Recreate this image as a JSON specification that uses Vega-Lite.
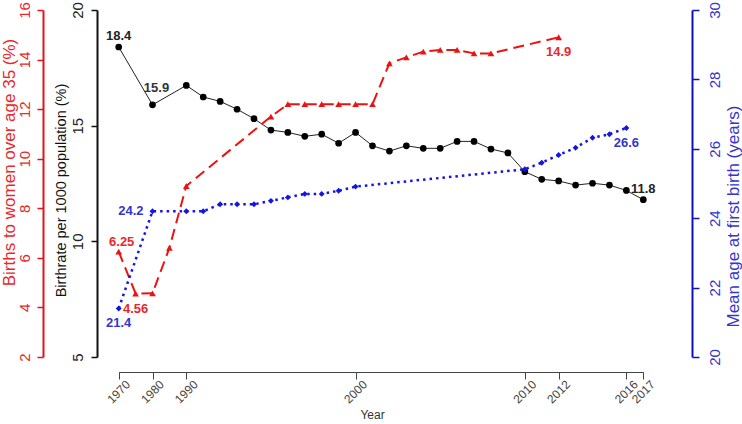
{
  "$schema": "https://vega.github.io/schema/vega-lite/v6.json",
  "width": 595,
  "height": 347,
  "autosize": {"type": "none"},
  "padding": {"left": 97, "top": 10, "right": 50, "bottom": 67},
  "background": "white",
  "config": {
    "font": "Liberation Sans",
    "view": {"stroke": null},
    "axis": {"grid": false, "labelFlush": false, "labelOverlap": false}
  },
  "datasets": {
    "birthrate": [
      {"year": 1970, "value": 18.4}, {"year": 1980, "value": 15.9},
      {"year": 1990, "value": 16.74}, {"year": 1991, "value": 16.24},
      {"year": 1992, "value": 16.05}, {"year": 1993, "value": 15.71},
      {"year": 1994, "value": 15.3}, {"year": 1995, "value": 14.81},
      {"year": 1996, "value": 14.71}, {"year": 1997, "value": 14.54},
      {"year": 1998, "value": 14.63}, {"year": 1999, "value": 14.24},
      {"year": 2000, "value": 14.71}, {"year": 2001, "value": 14.13},
      {"year": 2002, "value": 13.9}, {"year": 2003, "value": 14.13},
      {"year": 2004, "value": 14.02}, {"year": 2005, "value": 14.02},
      {"year": 2006, "value": 14.32}, {"year": 2007, "value": 14.32},
      {"year": 2008, "value": 13.99}, {"year": 2009, "value": 13.82},
      {"year": 2010, "value": 13.01}, {"year": 2011, "value": 12.68},
      {"year": 2012, "value": 12.61}, {"year": 2013, "value": 12.43},
      {"year": 2014, "value": 12.51}, {"year": 2015, "value": 12.43},
      {"year": 2016, "value": 12.2}, {"year": 2017, "value": 11.8}
    ],
    "over35": [
      {"year": 1970, "value": 6.25}, {"year": 1975, "value": 4.56},
      {"year": 1980, "value": 4.57}, {"year": 1985, "value": 6.4},
      {"year": 1990, "value": 8.9}, {"year": 1995, "value": 11.7},
      {"year": 1996, "value": 12.2}, {"year": 1997, "value": 12.2},
      {"year": 1998, "value": 12.2}, {"year": 1999, "value": 12.2},
      {"year": 2000, "value": 12.2}, {"year": 2001, "value": 12.2},
      {"year": 2002, "value": 13.85}, {"year": 2003, "value": 14.09},
      {"year": 2004, "value": 14.32}, {"year": 2005, "value": 14.39},
      {"year": 2006, "value": 14.39}, {"year": 2007, "value": 14.25},
      {"year": 2008, "value": 14.25}, {"year": 2012, "value": 14.9}
    ],
    "firstbirth": [
      {"year": 1970, "value": 21.4}, {"year": 1980, "value": 24.2},
      {"year": 1990, "value": 24.2}, {"year": 1991, "value": 24.2},
      {"year": 1992, "value": 24.4}, {"year": 1993, "value": 24.4},
      {"year": 1994, "value": 24.4}, {"year": 1995, "value": 24.5},
      {"year": 1996, "value": 24.6}, {"year": 1997, "value": 24.7},
      {"year": 1998, "value": 24.7}, {"year": 1999, "value": 24.79},
      {"year": 2000, "value": 24.91}, {"year": 2010, "value": 25.41},
      {"year": 2011, "value": 25.6}, {"year": 2012, "value": 25.82},
      {"year": 2013, "value": 26.03}, {"year": 2014, "value": 26.32},
      {"year": 2015, "value": 26.42}, {"year": 2016, "value": 26.6}
    ]
  },
  "encoding": {
    "x": {
      "field": "year",
      "type": "quantitative",
      "scale": {"type": "linear", "domain": [1970, 1990, 2017], "range": [21.7, 89.3, 546.3], "nice": false, "zero": false},
      "axis": {
        "values": [1970, 1980, 1990, 2000, 2010, 2012, 2016, 2017],
        "format": "d",
        "offset": 15,
        "domainColor": "#444",
        "domainWidth": 1,
        "tickColor": "#444",
        "tickWidth": 1,
        "tickSize": 7,
        "labelAngle": -45,
        "labelAlign": "right",
        "labelBaseline": "middle",
        "labelOffset": 9,
        "labelPadding": 3,
        "labelFontSize": 12,
        "labelColor": "#444",
        "title": "Year",
        "titleFontSize": 12,
        "titleFontWeight": "normal",
        "titleColor": "#333",
        "titleX": 275,
        "titleY": 42,
        "titleAlign": "center",
        "titleBaseline": "middle"
      }
    }
  },
  "layer": [
    {
      "data": {"name": "birthrate"},
      "encoding": {
        "y": {
          "field": "value",
          "type": "quantitative",
          "scale": {"domain": [5, 20], "nice": false, "zero": false},
          "axis": {
            "orient": "left",
            "values": [5, 10, 15, 20],
            "domainColor": "#111",
            "domainWidth": 2,
            "tickColor": "#111",
            "tickWidth": 1.5,
            "tickSize": 6,
            "labelAngle": -90,
            "labelAlign": "center",
            "labelBaseline": "bottom",
            "labelFontSize": 15,
            "labelColor": "#222",
            "labelPadding": 6,
            "title": "Birthrate per 1000 population (%)",
            "titleFontSize": 14.5,
            "titleFontWeight": "normal",
            "titleColor": "#111",
            "titleAngle": -90,
            "titleX": -36,
            "titleY": 180,
            "titleAlign": "center",
            "titleBaseline": "middle"
          }
        }
      },
      "layer": [
        {"mark": {"type": "line", "color": "#222", "strokeWidth": 1}},
        {"mark": {"type": "point", "shape": "circle", "filled": true, "color": "#000", "size": 45, "opacity": 1}},
        {
          "transform": [{"filter": "datum.year == 1970 || datum.year == 2017"}],
          "mark": {"type": "text", "dy": -11, "fontWeight": "bold", "fontSize": 13, "color": "#222"},
          "encoding": {"text": {"field": "value", "type": "nominal"}}
        },
        {
          "transform": [{"filter": "datum.year == 1980"}],
          "mark": {"type": "text", "dx": 4, "dy": -17, "fontWeight": "bold", "fontSize": 13, "color": "#333"},
          "encoding": {"text": {"field": "value", "type": "nominal"}}
        }
      ]
    },
    {
      "data": {"name": "over35"},
      "encoding": {
        "y": {
          "field": "value",
          "type": "quantitative",
          "scale": {"domain": [2, 16], "nice": false, "zero": false},
          "axis": {
            "orient": "left",
            "offset": 54,
            "values": [2, 4, 6, 8, 10, 12, 14, 16],
            "domainColor": "#e0141b",
            "domainWidth": 2,
            "tickColor": "#e0141b",
            "tickWidth": 1.5,
            "tickSize": 6,
            "labelAngle": -90,
            "labelAlign": "center",
            "labelBaseline": "bottom",
            "labelFontSize": 15,
            "labelColor": "#e8282b",
            "labelPadding": 5,
            "title": "Births to women over age 35 (%)",
            "titleFontSize": 17,
            "titleFontWeight": "normal",
            "titleColor": "#e8282b",
            "titleAngle": -90,
            "titleX": -34,
            "titleY": 152,
            "titleAlign": "center",
            "titleBaseline": "middle"
          }
        }
      },
      "layer": [
        {"mark": {"type": "line", "color": "#ee1111", "strokeWidth": 2, "strokeDash": [11, 6]}},
        {"mark": {"type": "point", "shape": "triangle-up", "filled": true, "color": "#ee1111", "size": 45, "opacity": 1}},
        {
          "transform": [{"filter": "datum.year == 1970"}],
          "mark": {"type": "text", "dx": 3, "dy": -10, "fontWeight": "bold", "fontSize": 13, "color": "#e8282b"},
          "encoding": {"text": {"field": "value", "type": "nominal"}}
        },
        {
          "transform": [{"filter": "datum.year == 1975 || datum.year == 2012"}],
          "mark": {"type": "text", "dy": 15, "fontWeight": "bold", "fontSize": 13, "color": "#e8282b"},
          "encoding": {"text": {"field": "value", "type": "nominal"}}
        }
      ]
    },
    {
      "data": {"name": "firstbirth"},
      "encoding": {
        "y": {
          "field": "value",
          "type": "quantitative",
          "scale": {"domain": [20, 30], "nice": false, "zero": false},
          "axis": {
            "orient": "right",
            "values": [20, 22, 24, 26, 28, 30],
            "domainColor": "#1010c0",
            "domainWidth": 2,
            "tickColor": "#1010c0",
            "tickWidth": 1.5,
            "tickSize": 7,
            "labelAngle": -90,
            "labelAlign": "center",
            "labelBaseline": "top",
            "labelFontSize": 15,
            "labelColor": "#3535cc",
            "labelPadding": 8,
            "title": "Mean age at first birth (years)",
            "titleFontSize": 17,
            "titleFontWeight": "normal",
            "titleColor": "#3535cc",
            "titleAngle": -90,
            "titleX": 41,
            "titleY": 206,
            "titleAlign": "center",
            "titleBaseline": "middle"
          }
        }
      },
      "layer": [
        {"mark": {"type": "line", "color": "#1515e0", "strokeWidth": 2.5, "strokeDash": [2.5, 4]}},
        {"mark": {"type": "point", "shape": "diamond", "filled": true, "color": "#1515e0", "size": 35, "opacity": 1}},
        {
          "transform": [{"filter": "datum.year == 1970 || datum.year == 2016"}],
          "mark": {"type": "text", "dy": 15, "fontWeight": "bold", "fontSize": 13, "color": "#3535cc"},
          "encoding": {"text": {"field": "value", "type": "nominal"}}
        },
        {
          "transform": [{"filter": "datum.year == 1980"}],
          "mark": {"type": "text", "dx": -9, "align": "right", "fontWeight": "bold", "fontSize": 13, "color": "#3535cc"},
          "encoding": {"text": {"field": "value", "type": "nominal"}}
        }
      ]
    }
  ],
  "resolve": {"scale": {"y": "independent"}}
}
